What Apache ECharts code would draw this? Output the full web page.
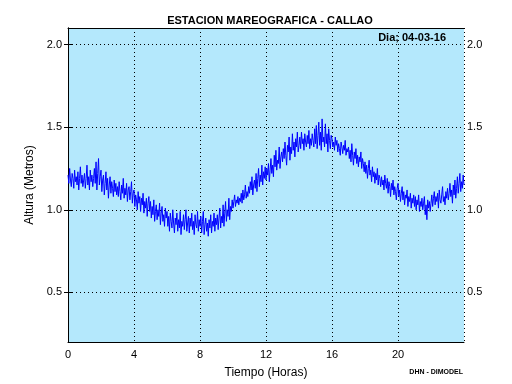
<!DOCTYPE html>
<html>
<head>
<meta charset="utf-8">
<script src="https://cdn.jsdelivr.net/npm/echarts@6/dist/echarts.min.js"></script>
<style>html,body{margin:0;padding:0;background:#fff}#c{width:512px;height:384px}</style>
</head>
<body>
<div id="c"></div>
<script>
// Tide height (m) every 3 minutes (0.05 h)
const heights = [
  1.21,1.16,1.25,1.18,1.14,1.22,1.19,1.13,1.24,1.17, 1.20,1.15,1.23,1.12,1.19,1.26,1.16,1.21,1.14,1.18,
  1.22,1.13,1.19,1.27,1.15,1.20,1.12,1.24,1.17,1.21, 1.14,1.19,1.25,1.16,1.29,1.12,1.22,1.31,1.15,1.20,
  1.24,1.11,1.18,1.21,1.09,1.16,1.23,1.12,1.19,1.07, 1.15,1.20,1.10,1.17,1.13,1.08,1.18,1.11,1.16,1.09,
  1.14,1.08,1.17,1.11,1.06,1.15,1.10,1.19,1.07,1.13, 1.09,1.16,1.05,1.12,1.14,1.06,1.11,1.17,1.04,1.10,
  1.12,1.02,1.09,1.06,1.00,1.11,1.04,1.08,0.99,1.07, 1.03,1.10,0.98,1.05,1.01,1.07,0.96,1.04,1.08,0.99,
  1.05,0.95,1.02,0.97,1.06,0.93,0.99,1.03,0.94,1.00, 0.96,1.04,0.91,0.98,1.02,0.93,0.97,0.90,1.01,0.95,
  0.99,0.90,0.96,0.87,0.98,0.93,0.89,1.00,0.92,0.86, 0.95,0.91,0.98,0.87,0.94,0.89,0.99,0.85,0.93,0.90,
  0.97,0.88,0.94,1.00,0.87,0.92,0.96,0.86,0.95,0.90, 0.98,0.88,0.93,0.85,0.97,0.91,0.89,0.99,0.87,0.94,
  0.90,0.96,0.86,0.93,0.99,0.85,0.91,0.95,0.87,0.92, 0.84,0.94,0.89,0.97,0.86,0.93,0.90,0.98,0.87,0.95,
  0.91,0.97,0.88,0.95,1.01,0.89,0.96,0.92,1.03,0.90, 0.98,1.05,0.93,1.00,0.96,1.07,0.94,1.02,0.99,1.06,
  1.01,1.05,1.09,1.02,1.06,1.04,1.08,1.03,1.07,1.05, 1.10,1.04,1.12,1.06,1.09,1.15,1.07,1.11,1.08,1.14,
  1.10,1.17,1.12,1.20,1.09,1.15,1.18,1.13,1.22,1.11, 1.19,1.25,1.14,1.21,1.17,1.27,1.15,1.23,1.19,1.26,
  1.18,1.25,1.21,1.28,1.17,1.24,1.31,1.22,1.27,1.20, 1.33,1.26,1.36,1.24,1.30,1.28,1.38,1.25,1.32,1.35,
  1.29,1.37,1.31,1.41,1.33,1.27,1.39,1.35,1.44,1.30, 1.38,1.34,1.46,1.36,1.41,1.32,1.43,1.38,1.47,1.35,
  1.39,1.44,1.37,1.47,1.40,1.43,1.36,1.46,1.41,1.38, 1.45,1.40,1.48,1.37,1.43,1.39,1.46,1.42,1.38,1.49,
  1.40,1.51,1.37,1.45,1.53,1.39,1.47,1.36,1.55,1.41, 1.44,1.38,1.52,1.40,1.46,1.35,1.49,1.42,1.37,1.45,
  1.43,1.38,1.41,1.36,1.44,1.39,1.42,1.35,1.40,1.37, 1.33,1.41,1.38,1.34,1.39,1.36,1.42,1.33,1.37,1.35,
  1.38,1.31,1.36,1.29,1.40,1.33,1.27,1.35,1.31,1.37, 1.28,1.33,1.26,1.32,1.29,1.35,1.25,1.31,1.28,1.23,
  1.29,1.22,1.27,1.19,1.25,1.30,1.21,1.24,1.17,1.26, 1.20,1.23,1.16,1.22,1.18,1.25,1.15,1.21,1.19,1.14,
  1.20,1.15,1.18,1.12,1.21,1.16,1.13,1.19,1.10,1.17, 1.14,1.08,1.16,1.12,1.18,1.09,1.14,1.11,1.06,1.13,
  1.16,1.08,1.12,1.05,1.10,1.14,1.06,1.11,1.03,1.09, 1.07,1.12,1.02,1.08,1.05,1.10,1.01,1.07,1.04,1.09,
  1.02,1.08,1.00,1.06,1.03,1.09,0.99,1.05,1.02,1.07, 1.00,1.04,1.08,0.97,1.03,0.94,1.06,1.01,1.05,0.99,
  1.04,1.09,1.02,1.07,1.11,1.03,1.08,1.05,1.10,1.01, 1.12,1.06,1.04,1.09,1.14,1.05,1.08,1.03,1.11,1.07,
  1.13,1.06,1.10,1.16,1.08,1.12,1.04,1.15,1.09,1.18, 1.07,1.13,1.20,1.10,1.16,1.22,1.11,1.17,1.13,1.21,
  1.15
];
const hours = heights.map((_, i) => i / 20);
const yTicks = [0.5, 1.0, 1.5, 2.0];
const xTicks = [0, 4, 8, 12, 16, 20];

const FONT = 'Liberation Sans';
const chart = echarts.init(document.getElementById('c'), null, {renderer: 'canvas'});
const data = hours.map((h, i) => [h, heights[i]]);
const tickFmt = v => v.toFixed(1);
chart.setOption({
  animation: false,
  backgroundColor: '#ffffff',
  title: {
    text: 'ESTACION MAREOGRAFICA - CALLAO',
    left: 265, top: 10, textAlign: 'center',
    textStyle: {fontFamily: FONT, fontSize: 11, fontWeight: 'bold', color: '#000'}
  },
  grid: {left: 68, right: 48, top: 28, bottom: 42, show: true, backgroundColor: '#b4e8fc', borderWidth: 0},
  xAxis: [{
    type: 'value', min: 0, max: 24, interval: 4, position: 'bottom',
    name: 'Tiempo (Horas)', nameLocation: 'middle', nameGap: 25,
    nameTextStyle: {fontFamily: FONT, fontSize: 12, color: '#000'},
    axisLine: {show: true, lineStyle: {color: '#000', width: 1}},
    axisTick: {show: false},
    axisLabel: {fontFamily: FONT, fontSize: 11, color: '#000', margin: 7,
      formatter: v => (xTicks.indexOf(v) >= 0 ? String(v) : '')},
    splitLine: {show: true, lineStyle: {color: '#000', width: 1, type: [1, 3]}}
  }, {
    type: 'value', min: 0, max: 24, interval: 4, position: 'top',
    axisLine: {show: true, lineStyle: {color: '#000', width: 1}},
    axisTick: {show: false}, axisLabel: {show: false}, splitLine: {show: false}
  }],
  yAxis: [{
    type: 'value', min: 0.2, max: 2.1, position: 'left',
    name: 'Altura (Metros)', nameLocation: 'middle', nameGap: 28, nameRotate: 90,
    nameTextStyle: {fontFamily: FONT, fontSize: 12, color: '#000'},
    axisLine: {show: true, lineStyle: {color: '#000', width: 1}},
    axisTick: {show: true, inside: true, length: 4, customValues: yTicks, lineStyle: {color: '#000'}},
    axisLabel: {fontFamily: FONT, fontSize: 11, color: '#000', margin: 6, customValues: yTicks, formatter: tickFmt},
    splitLine: {show: true, lineStyle: {color: '#000', width: 1, type: [1, 3]}}
  }, {
    type: 'value', min: 0.2, max: 2.1, position: 'right',
    axisLine: {show: true, lineStyle: {color: '#000', width: 1}},
    axisTick: {show: true, inside: true, length: 4, customValues: yTicks, lineStyle: {color: '#000'}},
    axisLabel: {fontFamily: FONT, fontSize: 11, color: '#000', margin: 3, customValues: yTicks, formatter: tickFmt},
    splitLine: {show: false}
  }],
  graphic: [{
    type: 'text', right: 66, top: 32,
    style: {text: 'Dia; 04-03-16', fontFamily: FONT, fontSize: 11, fontWeight: 'bold', fill: '#000'}
  }, {
    type: 'text', right: 49, top: 369,
    style: {text: 'DHN - DIMODEL', fontFamily: FONT, fontSize: 7, fontWeight: 'bold', fill: '#000'}
  }],
  series: [{
    type: 'line', data: data, showSymbol: false, symbol: 'none',
    lineStyle: {color: '#0000ff', width: 1}, z: 3
  }]
});
</script>
</body>
</html>
